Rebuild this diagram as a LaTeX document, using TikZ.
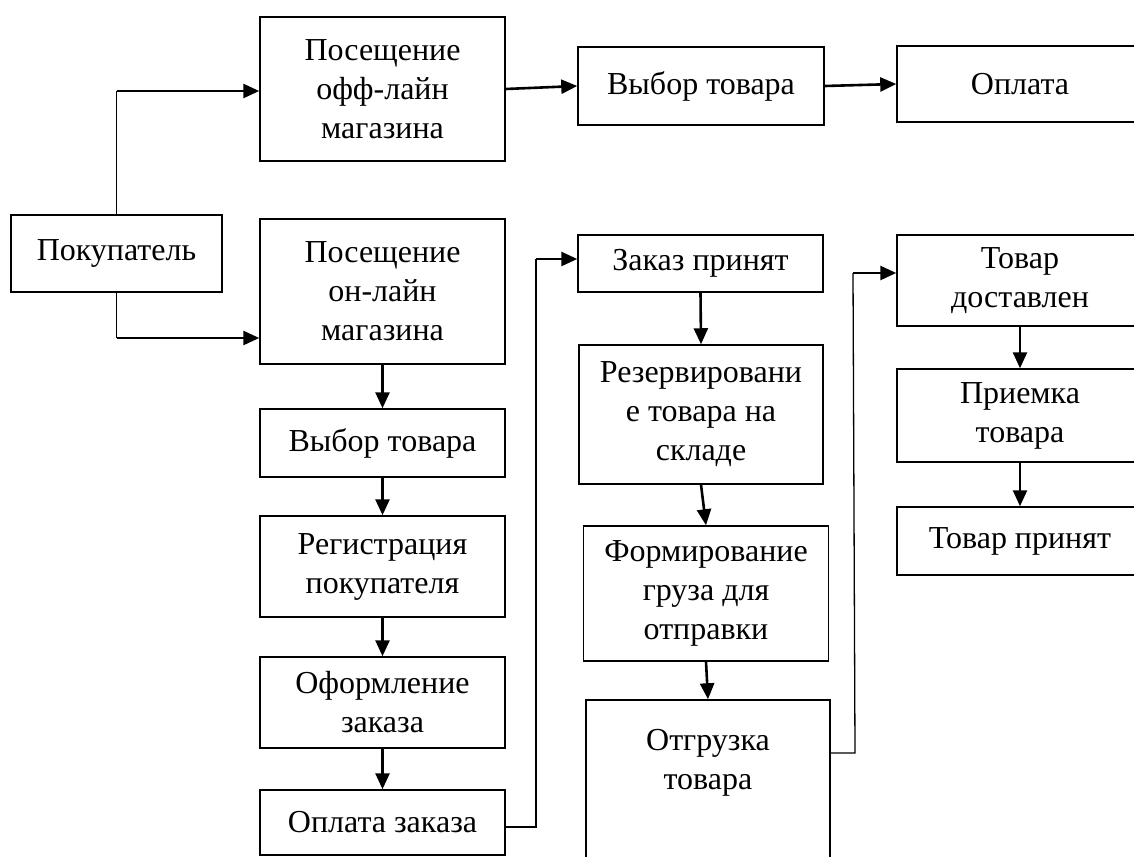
\documentclass[tikz,border=0pt]{standalone}
\usepackage{fontspec}
\setmainfont{Liberation Serif}
\usetikzlibrary{arrows.meta}

\begin{document}
\begin{tikzpicture}[x=0.5pt,y=-0.5pt,
    blok/.style={draw,line width=0.75pt,inner sep=0pt,align=center,
      minimum width=122.5pt,font=\fontsize{16}{19.5}\selectfont},
    strelka/.style={line width=1.3pt,-{Triangle[length=8pt,width=7pt]}},
    linija/.style={line width=0.65pt}]

    \clip (0,0) rectangle (1134,856);

    % verkhnij rjad
    \node[blok,minimum width=105.5pt,minimum height=38.5pt] (pokupatel) at (116.5,253.5) {Покупатель};
    \node[blok,minimum height=72pt] (offlajn) at (382.5,89) {Посещение\\офф-лайн\\магазина};
    \node[blok,minimum width=123pt,minimum height=39pt] (vybor1) at (701,86) {Выбор товара};
    \node[blok,minimum width=123pt,minimum height=38pt] (oplata) at (1020,84) {Оплата};

    % on-lajn
    \node[blok,minimum height=72.5pt] (onlajn) at (382.5,291.5) {Посещение\\он-лайн\\магазина};
    \node[blok,minimum height=34pt] (vybor2) at (382.5,443) {Выбор товара};
    \node[blok,minimum height=50.5pt] (registr) at (382.5,566.5) {Регистрация\\покупателя};
    \node[blok,minimum height=45.5pt] (oform) at (382.5,702.5) {Оформление\\заказа};
    \node[blok,minimum height=32.5pt] (oplzak) at (382.5,822.5) {Оплата заказа};

    \node[blok,minimum height=28.5pt] (zakaz) at (700.5,263.5) {Заказ принят};
    \node[blok,minimum width=122pt,minimum height=69.5pt] (rezerv) at (701,414.5) {Резервировани\\е товара на\\складе};
    \node[blok,minimum height=67.5pt] (formir) at (706,593.5) {Формирование\\груза для\\отправки};
    \node[blok,minimum width=122pt,minimum height=79pt] (otgruz) at (708,779) {Отгрузка\\товара\\\mbox{}};

    \node[blok,minimum width=123pt,minimum height=45.5pt] (dostav) at (1020,280.5) {Товар\\доставлен};
    \node[blok,minimum width=123pt,minimum height=46.5pt] (priemka) at (1020,415.5) {Приемка\\товара};
    \node[blok,minimum width=123pt,minimum height=34pt] (prinyat) at (1020,541) {Товар принят};

    \coordinate (k1) at (117,91);
    \coordinate (k2) at (117,338);
    \coordinate (k3) at (536,827);
    \coordinate (k4) at (536,259);
    \coordinate (k5) at (855,753);
    \coordinate (k6) at (853,273);

    % ot pokupatelja
    \draw[linija] (pokupatel.north) -- (pokupatel.north |- k1);
    \draw[strelka] (k1) -- (offlajn.west |- k1);
    \draw[linija] (pokupatel.south) -- (pokupatel.south |- k2);
    \draw[strelka] (k2) -- (onlajn.west |- k2);

    \draw[strelka] (offlajn.east) -- (vybor1.west);
    \draw[strelka] (vybor1.east) -- (oplata.west);

    % vniz po stolbcam
    \foreach \a/\b in {onlajn/vybor2,vybor2/registr,registr/oform,oform/oplzak,
        zakaz/rezerv,rezerv/formir,formir/otgruz,dostav/priemka,priemka/prinyat}
        \draw[strelka] (\a.south) -- (\b.north);

    % perekhody
    \draw[linija] (oplzak.east |- k3) -- (k3) -- (k4);
    \draw[strelka] (k4) -- (zakaz.west |- k4);
    \draw[linija] (otgruz.east |- k5) -- (k5) -- (k6);
    \draw[strelka] (k6) -- (dostav.west |- k6);

\end{tikzpicture}
\end{document}
